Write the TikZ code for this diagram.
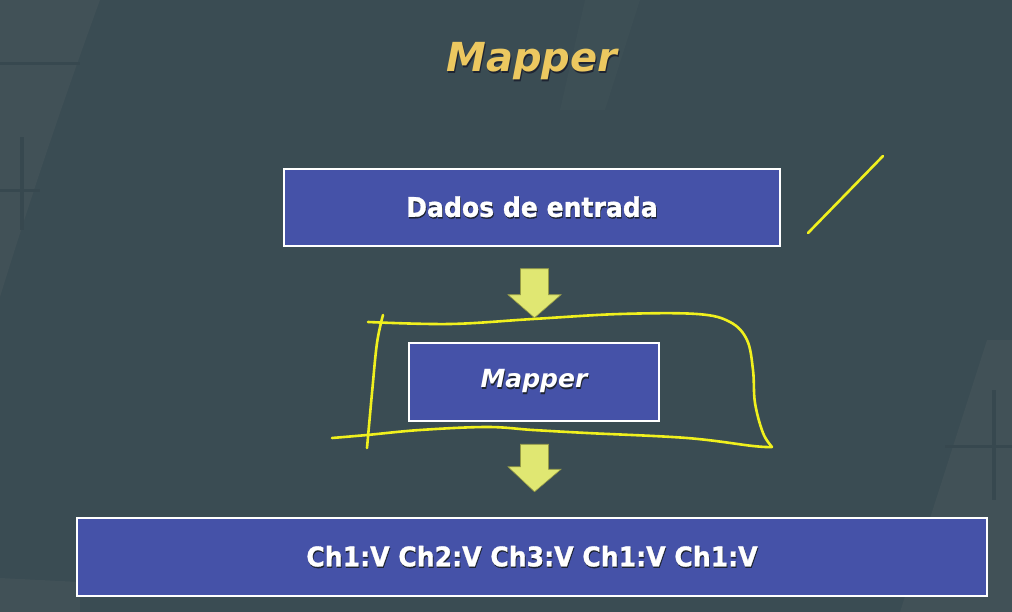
\documentclass[tikz,border=0pt]{standalone}
\usepackage{fontspec}
\setmainfont{DejaVu Sans}[BoldFeatures={FakeBold=1.2}]
\usetikzlibrary{calc}
\definecolor{bg}{RGB}{58,76,83}
\definecolor{bglight}{RGB}{65,81,87}
\definecolor{bgdark}{RGB}{55,72,79}
\definecolor{boxblue}{RGB}{69,82,168}
\definecolor{titleyellow}{RGB}{236,200,96}
\definecolor{arrowyellow}{RGB}{224,231,114}
\definecolor{penyellow}{RGB}{240,240,30}
\definecolor{shadowc}{RGB}{30,36,50}
\newcommand{\shtext}[2]{\makebox[0pt]{\textcolor{shadowc}{\raisebox{-1.5pt}{\hspace*{1.5pt}#2}}}\makebox[0pt]{\textcolor{#1}{#2}}}
\tikzset{
  bluebox/.style={draw=white, line width=2.5pt, fill=boxblue, inner sep=0pt, anchor=center},
  boxtext/.style={font=\bfseries\fontsize{27}{30}\selectfont, text=white},
  blockarrow/.style={fill=arrowyellow, draw={rgb,255:red,150;green,155;blue,70}, line width=0.6pt},
  pen/.style={draw=penyellow, line width=2.6pt, line cap=round, line join=round}
}
\begin{document}
\begin{tikzpicture}[x=1pt,y=-1pt]
  % background
  \fill[bg] (0,0) rectangle (1012,612);
  \useasboundingbox (0,0) rectangle (1012,612);
  \fill[bglight] (0,0) -- (100,0) .. controls (60,110) and (30,200) .. (0,297) -- cycle;
  \fill[bgdark] (0,62) rectangle (80,65);
  \fill[bgdark] (0,189) rectangle (40,192);
  \fill[bgdark] (20,137) rectangle (24,230);
  \fill[bglight] (0,578) -- (80,582) -- (80,612) -- (0,612) -- cycle;
  \fill[bglight] (987,340) -- (1012,340) -- (1012,612) -- (900,612) -- cycle;
  \fill[bgdark] (945,445) rectangle (1012,448);
  \fill[bgdark] (992,390) rectangle (996,500);
  \fill[bglight!50!bg] (585,0) -- (640,0) -- (605,110) -- (560,110) -- cycle;

  % title
  \node (title) at (532,62) {\fontsize{40}{44}\selectfont\bfseries\itshape\shtext{titleyellow}{Mapper}};

  % boxes
  \node[bluebox, minimum width=496pt, minimum height=77pt] (dados) at (532,207.5) {};
  \node[boxtext] at (dados.center) {\scalebox{0.93}[1]{\shtext{white}{Dados de entrada}}};
  \node[bluebox, minimum width=250pt, minimum height=78pt] (mapper) at (534,382) {};
  \node[boxtext] at (mapper.center) {\fontsize{25}{28}\selectfont\itshape\shtext{white}{Mapper}};
  \node[bluebox, minimum width=910pt, minimum height=78pt] (out) at (532,557) {};
  \node[boxtext] at (out.center) {\scalebox{0.93}[1]{\shtext{white}{Ch1:V Ch2:V Ch3:V Ch1:V Ch1:V}}};

  % block arrows
  \coordinate (a1s) at ($(mapper.north)+(0.5,-73)$);
  \coordinate (a1t) at ($(mapper.north)+(0.5,-24)$);
  \coordinate (a2s) at ($(mapper.south)+(0.5,22)$);
  \coordinate (a2t) at ($(out.north)+(2.5,-25)$);
  \draw[blockarrow] ($(a1s)+(-14,0)$) -- ++(28,0) -- ++(0,26) -- ++(12.5,0) -- (a1t) -- ($(a1t)+(-26.5,-23)$) -- ++(12.5,0) -- cycle;
  \draw[blockarrow] ($(a2s)+(-14,0)$) -- ++(28,0) -- ++(0,25) -- ++(12.5,0) -- (a2t) -- ($(a2t)+(-26.5,-25)$) -- ++(12.5,0) -- cycle;

  % hand-drawn annotations
  \draw[pen] (808,233) -- (883,156);
  \draw[pen] plot[smooth, tension=0.6] coordinates {(368,322) (450,324) (533,319) (620,314) (697,314) (730,322) (747,340) (753,370) (755,403) (763,433) (772,447)};
  \draw[pen] plot[smooth, tension=0.6] coordinates {(772,447) (753,446) (687,438) (587,433) (533,430) (487,427) (420,430) (367,435) (332,438)};
  \draw[pen] plot[smooth, tension=0.6] coordinates {(383,315) (377,343) (372,393) (367,448)};
\end{tikzpicture}
\end{document}
